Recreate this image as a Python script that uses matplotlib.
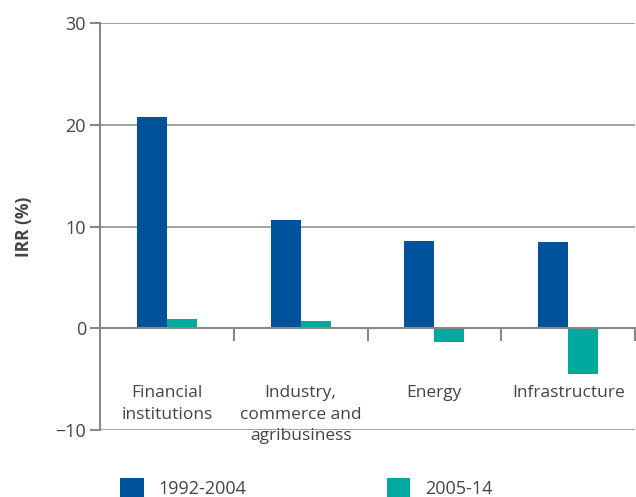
import numpy as np
import matplotlib.pyplot as plt

# Data
categories = ['Financial\ninstitutions', 'Industry,\ncommerce and\nagribusiness', 'Energy', 'Infrastructure']
irr_1992_2004 = [20.8, 10.6, 8.6, 8.5]
irr_2005_14 = [0.9, 0.7, -1.4, -4.5]
series_labels = ['1992-2004', '2005-14']

blue = '#00529b'
teal = '#00a99d'
grid_gray = '#9a9a9a'
text_gray = '#444444'

plt.rcParams['font.family'] = ['Open Sans', 'DejaVu Sans']

fig = plt.figure(figsize=(6.36, 4.97), dpi=100)
ax = fig.add_axes([100 / 636, 1 - 430 / 497, 535 / 636, 407 / 497])

x = np.arange(len(categories))
w = 0.225
b1 = ax.bar(x - w / 2, irr_1992_2004, w, color=blue, label=series_labels[0], zorder=3)
b2 = ax.bar(x + w / 2, irr_2005_14, w, color=teal, label=series_labels[1], zorder=3)

ax.set_xlim(-0.5, len(categories) - 0.5)
ax.set_ylim(-10, 30)
ax.set_yticks([-10, 0, 10, 20, 30])
ax.set_yticklabels(['\u221210', '0', '10', '20', '30'])

# horizontal grid lines
for yv in [-10, 10, 20, 30]:
    ax.axhline(yv, color=grid_gray, lw=1.3, zorder=1)

for s in ['top', 'right']:
    ax.spines[s].set_visible(False)
ax.spines['bottom'].set_position(('data', 0))
ax.spines['bottom'].set_color('#888888')
ax.spines['bottom'].set_linewidth(1.5)
ax.spines['bottom'].set_zorder(4)
ax.spines['left'].set_color('#888888')
ax.spines['left'].set_linewidth(1.5)

ax.tick_params(axis='y', direction='out', length=7, width=1.5, color='#888888',
               labelsize=13, labelcolor=text_gray, pad=3)

# category labels below, boundary ticks on the zero line
ax.set_xticks(x)
ax.set_xticklabels(categories, fontsize=12.5, color=text_gray, linespacing=1.45, va='top')
ax.tick_params(axis='x', which='major', length=0, pad=41)
ax.set_xticks(np.arange(len(categories)) + 0.5, minor=True)
ax.tick_params(axis='x', which='minor', direction='out', length=9, width=1.5, color='#888888')

ax.set_ylabel('IRR (%)', fontsize=12.5, fontweight='bold', color=text_gray)
ax.yaxis.set_label_coords(-0.125, 0.5)

fig.legend(handles=[b1, b2], labels=series_labels, loc='center left',
           bbox_to_anchor=(104 / 636, 1 - 488 / 497), ncol=2, frameon=False,
           fontsize=13, handlelength=1.3, handleheight=1.4, handletextpad=0.8,
           columnspacing=7.8, labelcolor=text_gray)

fig.savefig('out.png', dpi=100)
